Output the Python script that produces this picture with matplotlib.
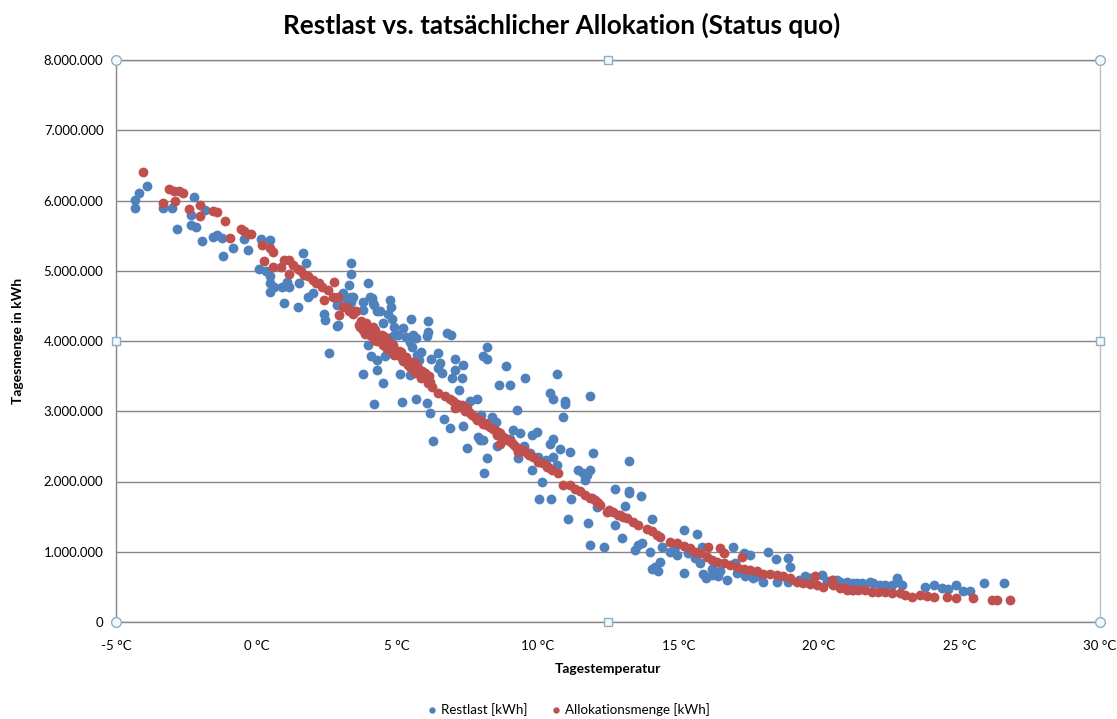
import matplotlib
matplotlib.use("Agg")
import matplotlib.pyplot as plt
from matplotlib.ticker import FuncFormatter, MultipleLocator
import numpy as np

# Restlast [kWh] - Tagestemperatur in °C, Menge in Mio. kWh
restlast_temp = [
    -4.31, -4.31, -4.19, -3.91, -3.32, -3.01, -2.84, -2.23, -2.33, -2.33, -2.15, -1.94, -1.82,
    -1.54, -1.42, -1.23, -1.20, -0.83, -0.44, -0.30, 0.17, 0.48, 0.08, 0.34, 0.48, 0.48, 0.48,
    0.63, 0.89, 0.99, 1.07, 1.17, 1.46, 1.50, 1.66, 1.76, 1.82, 2.00, 2.41, 2.45, 2.57, 2.89,
    2.89, 3.18, 3.30, 3.36, 3.36, 3.42, 3.78, 3.98, 4.04, 4.13, 3.98, 4.07,
    3.35, 3.35, 3.09, 2.87, 2.87, 3.80, 4.10, 4.16, 4.28, 4.39, 4.75, 4.77, 4.69, 4.81, 5.48,
    6.08, 5.22, 5.04, 4.87, 5.58, 5.67, 5.46, 5.52, 6.08, 6.05, 6.76, 6.91, 4.28, 4.28, 3.78,
    4.49, 4.57, 5.10, 5.46, 5.84, 5.76, 6.47, 6.53, 6.47, 7.06, 7.06, 6.94, 7.30, 7.36, 8.18,
    8.07, 8.18, 8.87, 8.61, 9.00, 9.55, 10.68, 10.44, 10.56, 10.97, 10.97, 10.91, 11.86, 4.19,
    5.16, 5.67, 6.05, 6.17, 6.29, 6.68, 6.88, 7.36, 7.83, 8.37, 7.47, 7.89, 7.95, 8.19, 8.54,
    9.25, 9.13, 9.37, 9.79, 9.97, 10.44, 10.56, 10.80, 11.15, 11.98, 10.56,
    8.09, 8.04, 9.31, 9.73, 10.68, 9.79, 10.14, 11.45, 11.62, 11.86, 11.68, 11.74, 10.06, 10.46,
    11.17, 11.07, 11.80, 12.10, 12.75, 13.11, 12.75, 12.99, 13.23,
    4.50, 4.90, 5.30, 5.70, 6.20, 6.60, 7.20, 7.60, 8.00, 8.50, 9.00, 9.50, 10.00, 10.30,
    13.26, 13.66, 13.26, 11.86, 12.36, 14.06, 13.46, 13.58, 13.70, 14.00, 14.41, 14.35, 14.17,
    14.29, 14.06, 15.19, 14.71, 14.95, 14.89, 15.19, 15.66, 15.36, 15.60, 15.84, 15.78, 15.89,
    16.19, 16.43, 16.72, 16.19, 16.96, 17.32, 17.55, 17.02, 17.38, 17.67, 18.03, 18.20, 18.48,
    18.92, 18.98, 18.50, 18.92, 19.69, 20.11, 20.64, 21.00, 21.35,
    16.00, 16.50, 17.10, 17.80, 19.30, 19.50, 20.30,
    20.52, 20.76, 21.23, 21.53, 21.82, 21.94, 22.18, 22.36, 22.59, 22.77, 22.83, 22.95, 23.78,
    24.08, 24.37, 24.61, 24.88, 25.14, 25.38, 25.88, 26.57,
]
restlast_mio = [
    6.01, 5.90, 6.10, 6.20, 5.90, 5.90, 5.59, 6.05, 5.79, 5.65, 5.62, 5.43, 5.87,
    5.48, 5.51, 5.46, 5.21, 5.33, 5.45, 5.30, 5.45, 5.44, 5.03, 5.00, 4.92, 4.82, 4.70,
    4.77, 4.77, 4.54, 4.84, 4.77, 4.49, 4.82, 5.25, 5.11, 4.63, 4.68, 4.39, 4.30, 3.83, 4.23,
    4.54, 4.61, 4.80, 4.95, 5.11, 4.63, 4.44, 4.83, 4.63, 4.54, 3.94, 3.78,
    4.63, 4.56, 4.68, 4.51, 4.21, 4.56, 4.61, 4.51, 4.42, 4.42, 4.58, 4.49, 4.38, 4.32, 4.32,
    4.29, 4.19, 4.09, 4.07, 4.09, 4.04, 3.99, 3.92, 4.13, 4.07, 4.11, 4.09, 3.73, 3.59, 3.53,
    3.40, 3.79, 3.53, 3.52, 3.85, 3.73, 3.83, 3.68, 3.61, 3.75, 3.59, 3.47, 3.47, 3.66, 3.92,
    3.78, 3.74, 3.64, 3.38, 3.38, 3.48, 3.53, 3.26, 3.18, 3.14, 3.10, 2.92, 3.21, 3.10,
    3.13, 3.18, 3.12, 2.98, 2.58, 2.89, 2.76, 2.79, 3.18, 2.92, 2.47, 2.64, 2.59, 2.33, 2.50,
    3.02, 2.73, 2.69, 2.66, 2.71, 2.54, 2.61, 2.46, 2.42, 2.40, 2.35,
    2.12, 2.59, 2.33, 2.40, 2.23, 2.16, 2.00, 2.16, 2.12, 2.16, 2.02, 2.09, 1.75, 1.75,
    1.75, 1.47, 1.41, 1.63, 1.90, 1.65, 1.38, 1.19, 1.86,
    4.25, 4.20, 4.05, 3.80, 3.75, 3.55, 3.30, 3.15, 2.95, 2.85, 2.60, 2.50, 2.35, 2.30,
    2.29, 1.79, 1.84, 1.09, 1.07, 1.46, 1.02, 1.10, 1.12, 1.00, 1.07, 0.86, 0.79,
    0.72, 0.76, 1.31, 1.00, 0.95, 1.07, 0.70, 1.25, 0.98, 0.91, 1.07, 0.84, 0.69,
    0.67, 0.65, 0.60, 0.76, 1.07, 0.98, 0.95, 0.84, 0.65, 0.62, 0.57, 1.00, 0.89,
    0.91, 0.79, 0.57, 0.57, 0.62, 0.67, 0.60, 0.57, 0.55,
    0.62, 0.72, 0.70, 0.66, 0.60, 0.66, 0.58,
    0.60, 0.57, 0.55, 0.56, 0.57, 0.55, 0.53, 0.53, 0.53, 0.62, 0.57, 0.53, 0.50,
    0.53, 0.48, 0.47, 0.53, 0.44, 0.44, 0.56, 0.55,
]

# Allokationsmenge [kWh]
allok_temp = [
    -4.03, -3.32, -3.13, -2.93, -2.75, -2.63, -2.89, -2.41, -2.01, -2.01, -1.56, -1.42, -1.11,
    -0.94, -0.55, -0.44, -0.31, -0.20, 0.19, 0.48, 0.57, 0.28, 0.57, 0.87, 0.99, 1.14, 1.17,
    1.29, 1.46, 1.58, 1.70, 1.82, 2.00, 2.11, 2.23, 2.33, 2.41, 2.53, 2.77, 2.71, 2.89, 2.94,
    3.18, 3.30, 3.42, 3.54, 3.66, 3.78, 3.89, 4.01, 4.13, 4.19,
    3.09, 3.27, 3.45, 3.68, 3.80, 3.98, 4.16, 4.27, 4.39, 4.51, 4.63, 4.75, 4.87, 4.99, 5.10,
    5.22, 5.34, 5.46, 5.58, 5.70, 5.81, 5.93, 6.05, 6.17, 6.23, 6.47, 6.70, 6.88, 7.00, 7.12,
    7.30, 7.47, 7.59, 7.77, 7.95, 8.13, 8.30, 8.48, 8.66, 8.78, 8.96, 9.13, 9.25, 9.43, 9.61,
    9.84, 10.02, 10.20, 10.38,
    3.72, 3.90, 4.05, 4.22, 4.45, 4.58, 4.70, 4.85, 5.05, 5.15, 5.30, 5.50, 5.62, 5.75, 5.88,
    6.00, 6.12, 3.85, 4.05, 4.30, 4.48, 4.65, 4.90, 5.20, 5.40, 5.65, 5.85, 6.10,
    7.05, 7.20, 7.40, 7.65, 7.85, 8.05, 8.20, 8.40, 8.60, 8.85, 9.05, 9.20, 9.55, 9.70,
    8.54, 8.66, 8.90, 9.31, 10.08, 10.32, 10.50, 10.73, 10.91, 11.15, 11.33, 11.51, 11.68,
    11.86, 12.04, 12.16, 12.52, 12.69, 12.93, 13.17,
    11.93, 12.10, 12.22, 12.46, 12.87, 13.05, 13.40, 13.58, 13.88, 14.06, 14.23, 14.35, 14.71,
    14.95, 15.19, 15.42, 15.60, 15.78, 16.07, 16.50, 16.61, 17.26, 16.01, 16.19, 16.37, 16.61,
    16.84, 17.08, 17.32, 17.55, 17.79, 18.03, 18.27, 18.50, 18.74, 18.98, 19.22, 19.45, 19.69,
    19.93, 19.87, 20.16, 20.46, 20.52, 20.76, 21.00, 21.23, 21.41,
    20.46, 20.93, 21.17, 21.65, 21.88, 22.12, 22.36, 22.59, 22.89, 23.07, 23.31, 23.61, 23.84,
    24.08, 24.55, 24.88, 25.50, 26.15, 26.33, 26.80,
]
allok_mio = [
    6.40, 5.97, 6.16, 6.14, 6.13, 6.10, 6.00, 5.88, 5.94, 5.78, 5.85, 5.83, 5.71,
    5.46, 5.60, 5.56, 5.52, 5.52, 5.37, 5.32, 5.27, 5.14, 5.05, 5.05, 5.15, 5.15, 4.95,
    5.08, 5.03, 4.99, 4.94, 4.92, 4.87, 4.82, 4.82, 4.77, 4.58, 4.73, 4.84, 4.63, 4.63, 4.37,
    4.49, 4.44, 4.39, 4.42, 4.23, 4.20, 4.25, 4.16, 4.20, 4.01,
    4.49, 4.42, 4.42, 4.20, 4.16, 4.20, 4.13, 4.09, 4.04, 4.01, 3.97, 3.92, 3.87, 3.82, 3.78,
    3.73, 3.68, 3.63, 3.61, 3.59, 3.54, 3.52, 3.49, 3.42, 3.35, 3.26, 3.21, 3.18, 3.14, 3.11,
    3.09, 3.04, 2.97, 2.92, 2.88, 2.83, 2.78, 2.73, 2.69, 2.64, 2.59, 2.54, 2.47, 2.45, 2.40,
    2.35, 2.28, 2.26, 2.21,
    4.28, 4.22, 4.18, 4.15, 4.08, 4.05, 3.98, 3.95, 3.86, 3.84, 3.77, 3.70, 3.68, 3.62, 3.58,
    3.55, 3.50, 4.10, 4.08, 4.00, 3.95, 3.88, 3.80, 3.72, 3.66, 3.55, 3.48, 3.40,
    3.05, 3.06, 3.00, 2.95, 2.87, 2.82, 2.80, 2.75, 2.70, 2.62, 2.56, 2.50, 2.43, 2.38,
    2.66, 2.54, 2.59, 2.42, 2.28, 2.21, 2.16, 2.12, 1.95, 1.95, 1.90, 1.86, 1.81,
    1.76, 1.74, 1.69, 1.59, 1.57, 1.52, 1.48,
    1.76, 1.71, 1.67, 1.57, 1.52, 1.50, 1.43, 1.38, 1.33, 1.29, 1.24, 1.21, 1.14,
    1.12, 1.08, 1.05, 1.00, 0.98, 1.07, 1.05, 0.98, 0.93, 0.93, 0.88, 0.86, 0.84,
    0.81, 0.79, 0.76, 0.74, 0.72, 0.69, 0.68, 0.67, 0.65, 0.62, 0.57, 0.55, 0.54,
    0.53, 0.65, 0.50, 0.60, 0.53, 0.48, 0.46, 0.46, 0.45,
    0.55, 0.48, 0.46, 0.45, 0.43, 0.43, 0.42, 0.41, 0.41, 0.38, 0.36, 0.38, 0.37,
    0.36, 0.35, 0.34, 0.34, 0.32, 0.32, 0.32,
]

x_ticks = [-5, 0, 5, 10, 15, 20, 25, 30]

plt.rcParams['font.family'] = ['Lato', 'DejaVu Sans']

blau = '#4F81BD'
rot = '#C0504D'
grau = '#868686'

fig = plt.figure(figsize=(11.17, 7.19), dpi=100)
ax = fig.add_axes([116 / 1117, 1 - 622 / 719, (1100 - 116) / 1117, (622 - 60) / 719])

ax.scatter(restlast_temp, np.array(restlast_mio) * 1e6, s=50, color=blau, linewidths=0,
           label='Restlast [kWh]', zorder=3)
ax.scatter(allok_temp, np.array(allok_mio) * 1e6, s=50, color=rot, linewidths=0,
           label='Allokationsmenge [kWh]', zorder=4)

ax.set_xlim(-5, 30)
ax.set_ylim(0, 8e6)
ax.set_xticks(x_ticks)
ax.xaxis.set_major_formatter(FuncFormatter(lambda v, p: f"{int(v)} °C"))
ax.yaxis.set_major_locator(MultipleLocator(1e6))
ax.yaxis.set_major_formatter(FuncFormatter(lambda v, p: f"{int(v):,}".replace(",", ".")))
ax.tick_params(axis='y', length=0, labelsize=9.5, colors='black', pad=9)
ax.tick_params(axis='x', length=0, labelsize=9.5, colors='black', pad=13)
ax.grid(axis='y', color=grau, linewidth=1)
ax.set_axisbelow(True)
for s in ax.spines.values():
    s.set_color(grau)
    s.set_linewidth(1)
ax.spines['right'].set_color('#BFBFBF')

# Markierungen des ausgewählten Diagrammbereichs
for px, py in [(0, 0), (0, 1), (1, 0), (1, 1)]:
    ax.plot(px, py, 'o', transform=ax.transAxes, ms=7, mfc='#F2F8FC', mec='#8EAFC4',
            mew=1, clip_on=False, zorder=6)
for px, py in [(0.5, 0), (0.5, 1), (0, 0.5), (1, 0.5)]:
    ax.plot(px, py, 's', transform=ax.transAxes, ms=6, mfc='#F2F8FC', mec='#8EAFC4',
            mew=1, clip_on=False, zorder=6)

fig.suptitle('Restlast vs. tatsächlicher Allokation (Status quo)', x=0.503, y=0.982,
             fontsize=18.8, fontweight='bold', va='top')
ax.set_xlabel('Tagestemperatur', fontsize=10, fontweight='bold', labelpad=8)
ax.set_ylabel('Tagesmenge in kWh', fontsize=10, fontweight='bold', labelpad=14)

fig.legend(loc='lower center', bbox_to_anchor=(0.508, -0.012), ncol=2, frameon=False,
           fontsize=9.6, markerscale=0.65, handlelength=1.0, handletextpad=0.2,
           columnspacing=1.6)

fig.savefig('out.png', dpi=100)
